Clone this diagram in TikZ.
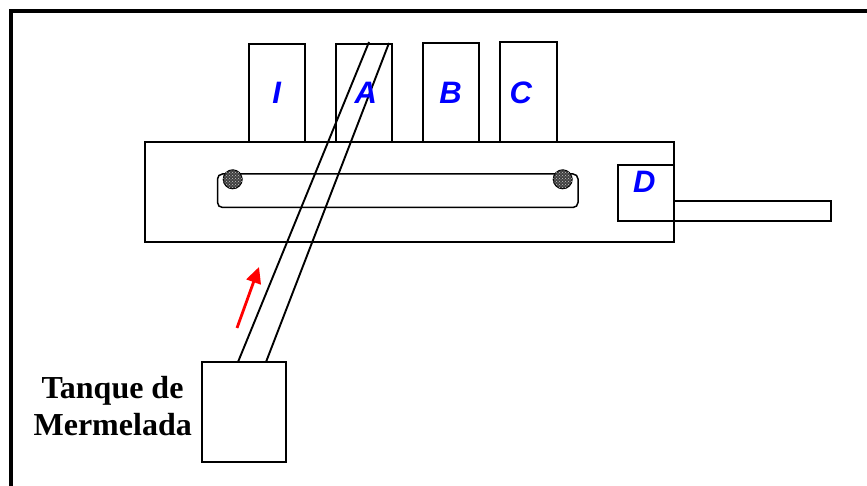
\documentclass[tikz,border=0pt]{standalone}
\usepackage{fontspec}
\setmainfont{Liberation Serif}
\newfontfamily\labelsans{Liberation Sans}
\usetikzlibrary{arrows.meta,patterns}
\definecolor{letterblue}{RGB}{0,0,255}
\tikzset{
  part/.style={draw=black, line width=1.9pt, inner sep=0pt, outer sep=0pt, fill=white},
  slotbox/.style={draw=black, line width=1.5pt, rounded corners=5pt, inner sep=0pt},
  roller/.style={circle, draw=black, line width=1pt, minimum size=19pt, inner sep=0pt,
    fill=black!75, postaction={pattern=crosshatch dots, pattern color=gray!45}},
  tubeline/.style={draw=black, line width=1.9pt},
  partlabel/.style={anchor=base, inner sep=0pt, text=letterblue,
    font=\labelsans\bfseries\itshape\fontsize{31}{31}\selectfont},
  tanktext/.style={anchor=base, inner sep=0pt,
    font=\bfseries\fontsize{32}{37}\selectfont},
  flowarrow/.style={draw=red, line width=2.8pt, -{Triangle[length=16pt,width=15pt]}}
}
\begin{document}
\begin{tikzpicture}[x=1pt,y=-1pt]
\useasboundingbox (0,0) rectangle (867,486);
% outer frame (top and left edges are visible)
\draw[line width=4.6pt] (11,486) -- (11,11) -- (867,11);

% top units I, A, B, C
\node[part, minimum width=56pt, minimum height=98pt]  (unitI) at (277,93) {};
\node[part, minimum width=56pt, minimum height=98pt]  (unitA) at (364,93) {};
\node[part, minimum width=56pt, minimum height=99pt]  (unitB) at (451,92.5) {};
\node[part, minimum width=57pt, minimum height=100pt] (unitC) at (528.5,92) {};

% main body
\node[part, minimum width=529pt, minimum height=100pt] (body) at (409.5,192) {};

% outlet box D and pipe
\node[part, minimum width=157pt, minimum height=20pt] (pipe) at (752.5,211) {};
\node[part, minimum width=56pt, minimum height=56pt] (unitD) at (646,193) {};

% slot with rollers
\node[slotbox, minimum width=360.5pt, minimum height=33.5pt] (slot) at (397.75,190.75) {};
\node[roller] (rollerL) at (232.7,179.3) {};
\node[roller] (rollerR) at (562.7,179.3) {};

% tank
\node[part, minimum width=84pt, minimum height=100pt] (tank) at (244,412) {};
\node[tanktext] (tanklabelA) at (112.5,398) {Tanque de};
\node[tanktext] (tanklabelB) at (112.7,435) {Mermelada};

% feed tube from the tank up through the body
\coordinate (tubeLbot) at (238,362);
\coordinate (tubeRbot) at (266,362);
\coordinate (tubeLtop) at (369,42);
\coordinate (tubeRtop) at (389,43);
\draw[tubeline] (tubeLbot) -- (tubeLtop);
\draw[tubeline] (tubeRbot) -- (tubeRtop);

% flow direction
\coordinate (flowstart) at (237,328);
\coordinate (flowend) at (259,267);
\draw[flowarrow] (flowstart) -- (flowend);

% labels
\node[partlabel] (labI) at (276.8,104) {I};
\node[partlabel] (labA) at (365.8,104) {A};
\node[partlabel] (labB) at (450.5,104) {B};
\node[partlabel] (labC) at (520.8,104) {C};
\node[partlabel] (labD) at (644.3,193) {D};
\end{tikzpicture}
\end{document}
